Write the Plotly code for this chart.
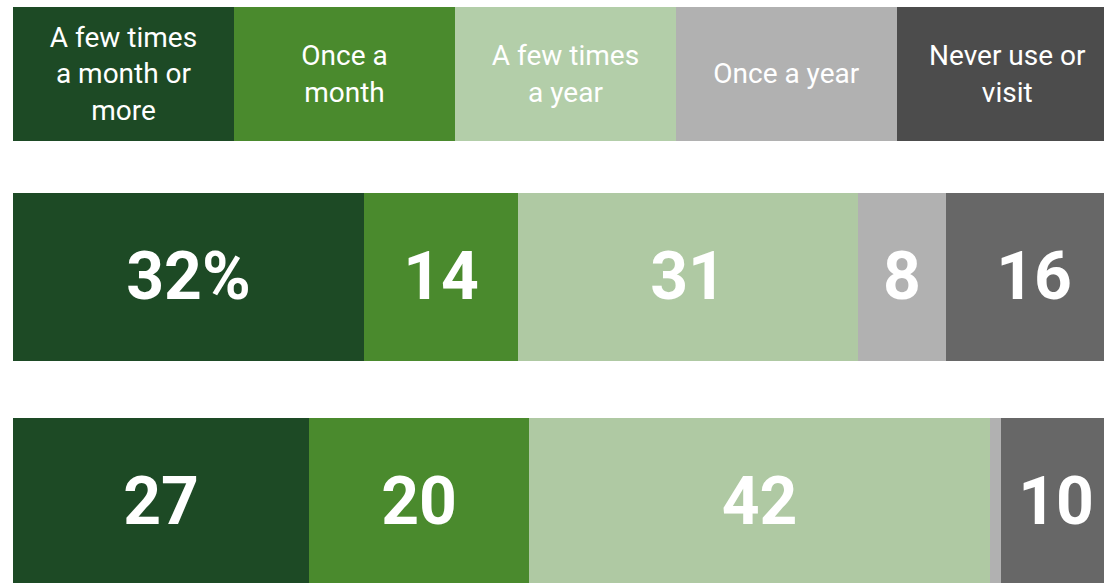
import plotly.graph_objects as go

# header categories and colours
categories = ["A few times a month or more", "Once a month", "A few times a year",
              "Once a year", "Never use or visit"]
header_labels = ["A few times<br>a month or<br>more", "Once a<br>month", "A few times<br>a year",
                 "Once a year", "Never use or<br>visit"]
header_colors = ["#1d4a25", "#4a8a2d", "#b3cea9", "#b1b1b1", "#4c4c4c"]
bar_colors = ["#1d4a25", "#4a8a2d", "#afc9a3", "#b1b1b1", "#676767"]

# survey rows
rows = ["row1", "row2"]
values = {
    "row1": [32, 14, 31, 8, 16],
    "row2": [27, 20, 42, 1, 10],
}
labels = {
    "row1": ["32%", "14", "31", "8", "16"],
    "row2": ["27", "20", "42", "", "10"],
}

FONT = "Roboto"

fig = go.Figure()

# header legend boxes
fig.add_trace(go.Bar(
    x=categories, y=[1] * len(categories),
    xaxis="x2", yaxis="y2",
    width=1,
    marker=dict(color=header_colors, line=dict(width=0)),
    text=header_labels,
    textposition="inside",
    insidetextanchor="middle",
    constraintext="none",
    textfont=dict(family=FONT, size=28, color="white"),
    hoverinfo="skip",
    showlegend=False,
))

# stacked bars, one trace per category
for i, cat in enumerate(categories):
    fig.add_trace(go.Bar(
        y=rows,
        x=[values[r][i] for r in rows],
        orientation="h",
        width=0.747,
        name=cat,
        marker=dict(color=bar_colors[i], line=dict(width=0)),
        text=[labels[r][i] for r in rows],
        textposition="inside",
        insidetextanchor="middle",
        constraintext="none",
        textfont=dict(family=FONT, size=66, color="white", weight="bold"),
        hovertemplate=cat + ": %{x}<extra></extra>",
        showlegend=False,
    ))

fig.update_layout(
    barmode="stack",
    width=1104, height=583,
    margin=dict(l=13, r=0, t=0, b=0),
    paper_bgcolor="white",
    plot_bgcolor="white",
    xaxis=dict(range=[0, 99.4], visible=False, fixedrange=True),
    yaxis=dict(domain=[0, 0.75], range=[1.36, -0.583], visible=False,
               type="category", fixedrange=True),
    xaxis2=dict(overlaying="x", anchor="y2", range=[-0.5, 4.437], visible=False,
                type="category", fixedrange=True),
    yaxis2=dict(domain=[0.758, 0.988], range=[0, 1], visible=False, fixedrange=True),
    bargap=0,
)

# drop the default page margin so the figure sits at the window corner
fig.write_html("out.html",
               config={"displayModeBar": False},
               post_script="document.body.style.margin='0';document.body.style.overflow='hidden';")
